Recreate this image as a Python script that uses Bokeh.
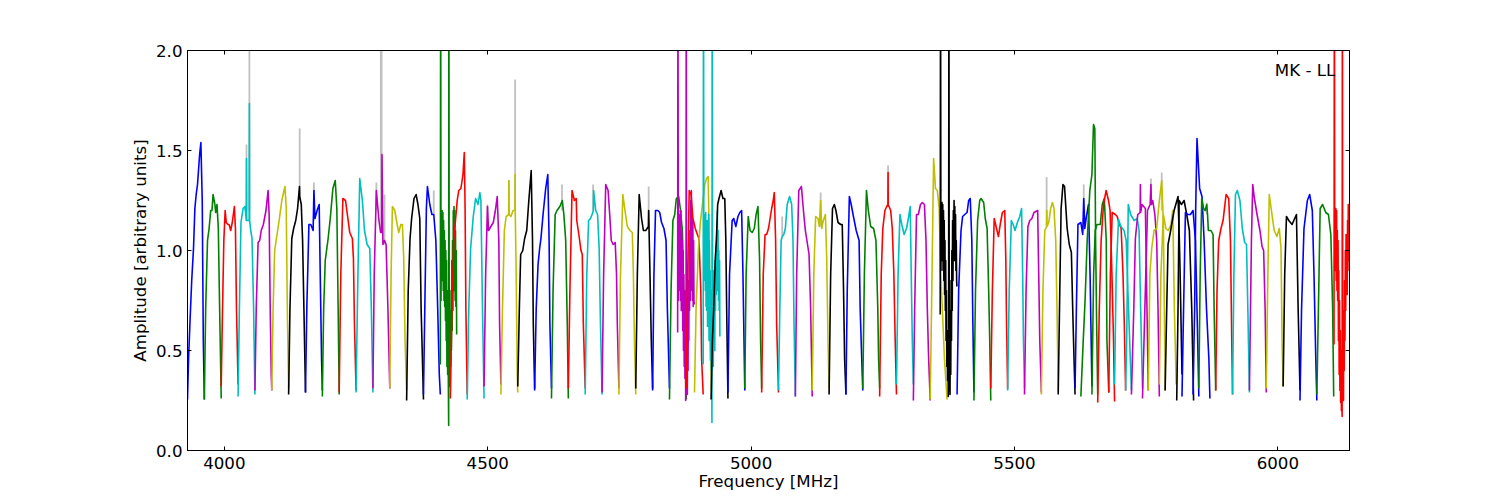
from bokeh.plotting import figure
from bokeh.models import LinearAxis, FixedTicker, Range1d
from bokeh.core.properties import value
from bokeh.embed import file_html
from bokeh.resources import INLINE

TITLE = "MK - LL"
X_LABEL = "Frequency [MHz]"
Y_LABEL = "Amplitude [arbitrary units]"
X_TICKS = [4000, 4500, 5000, 5500, 6000]
Y_TICKS = [0.0, 0.5, 1.0, 1.5, 2.0]
Y_TICK_LABELS = ["0.0", "0.5", "1.0", "1.5", "2.0"]

COLORS = {"b": "#0000ff", "g": "#008000", "r": "#ff0000", "c": "#00bfbf",
          "m": "#bf00bf", "y": "#bfbf00", "k": "#000000"}

BAND_START = [3930, 3962, 3994, 4026, 4058, 4090, 4122, 4154, 4186, 4218,
              4250, 4282, 4314, 4346, 4378, 4410, 4429, 4461, 4493, 4525,
              4557, 4589, 4621, 4653, 4685, 4717, 4749, 4781, 4813, 4845,
              4860.5, 4877, 4892.5, 4909, 4924, 4956, 4988, 5020, 5052, 5084,
              5116, 5148, 5180, 5212, 5244, 5276, 5308, 5340, 5359, 5391,
              5423, 5455, 5487, 5519, 5551, 5583, 5615, 5626, 5647, 5658,
              5679, 5690, 5711, 5722, 5743, 5754, 5775, 5786, 5808, 5818,
              5839, 5850, 5882, 5914, 5946, 5978, 6010, 6042, 6074, 6106]

BAND_COLOR = [
    "b", "g", "r", "c", "m", "y", "k", "b", "g", "r",
    "c", "m", "y", "k", "b", "g", "r", "c", "m", "y",
    "k", "b", "g", "r", "c", "m", "y", "k", "b", "g",
    "m", "r", "y", "c", "k", "b", "g", "r", "c", "m",
    "y", "k", "b", "g", "r", "c", "m", "y", "k", "b",
    "g", "r", "c", "m", "y", "k", "b", "g", "g", "r",
    "r", "c", "c", "m", "m", "y", "y", "k", "k", "b",
    "b", "g", "r", "c", "m", "y", "k", "b", "g", "r"]

BAND_OFFSET = [
    [0, 2, 5, 8, 11.4, 14, 16.5, 19, 23, 25.4, 28, 30, 32],
    [0, 2.5, 6, 9, 12, 14.5, 16.5, 20, 21.5, 24, 26.5, 29, 32],
    [0, 2.5, 5, 7.5, 9.5, 13, 15, 18, 21, 25, 27, 29, 32],
    [0, 2.5, 5.5, 9.5, 13, 15.6, 16, 16.4, 21, 21.5, 22, 24, 26.5, 29.5, 32],
    [0, 2.5, 6, 9, 12, 16, 21, 25, 27, 29, 31, 32],
    [0, 2.5, 5.5, 10, 14.5, 19, 25, 27.5, 29.5, 32],
    [0, 2.5, 6, 9.5, 13.5, 17, 20.6, 21, 24, 26.5, 29, 32],
    [0, 2.5, 6.5, 10, 14.5, 16, 18, 22, 26, 28, 30.5, 32],
    [0, 2.5, 5.5, 11, 15, 20, 24.5, 27.5, 30, 32],
    [0, 3, 7, 12, 17, 20, 25, 27, 29, 32],
    [0, 3, 7, 12, 16, 21, 26, 29, 32],
    [0, 2.5, 6.5, 11.5, 14.5, 16.8, 17.2, 19, 22, 25, 28.5, 32],
    [0, 2.5, 5, 9.5, 14, 17, 21, 24, 26.5, 29, 32],
    [0, 3, 6.5, 9.5, 14, 18, 21.5, 25, 27.5, 32],
    [0, 2.5, 5.5, 7.5, 12, 16, 19.5, 23.5, 27, 30, 32],
    [0, .6, 1.3, 2, 2.7, 3.4, 4.1, 4.8, 5.5, 6.2,
     6.9, 7.6, 8.3, 9, 9.7, 10.4, 11.1, 11.8, 12.5, 13.2,
     13.9, 14.6, 15.3, 15.8, 16.2, 16.9, 17.6, 18.3, 19, 19.7,
     20.4, 21.1, 21.8, 22.5, 23.2, 23.9, 24.6, 25.3, 26, 26.7,
     27.4, 28.1, 28.8, 29.5, 30.2, 31],
    [0, 3, 6.5, 13, 16, 20, 24, 26.5, 28, 29.5, 32],
    [0, 3, 6.5, 11.5, 16, 20.5, 24, 26, 29, 32],
    [0, 3, 6.5, 8.5, 13, 17.5, 21.5, 25, 28, 29.5, 32],
    [0, 3, 6.5, 10, 14.8, 15.2, 15.6, 19, 23, 26.6, 26.9, 27.2, 29, 31, 32],
    [0, 3, 5.5, 9.5, 13, 17, 21, 25.5, 28, 29.5, 32],
    [0, 3, 6.5, 9.5, 12, 16, 21, 25, 27.5, 29, 32],
    [0, 3, 7, 10.5, 16, 20.5, 23.5, 27, 30, 32],
    [0, 3, 7, 11.5, 15, 16, 20, 24, 26.5, 28.5, 32],
    [0, 3, 6.5, 10, 13, 15.5, 16, 20, 23.5, 26.5, 29, 32],
    [0, 3, 7, 11.5, 15, 17.5, 21, 25, 27.5, 29, 32],
    [0, 3, 7.5, 11.5, 16, 21, 25.5, 27.5, 29.5, 32],
    [0, 3, 6.5, 11, 14.5, 19, 24, 24.5, 27, 29.5, 32],
    [0, 2.5, 5.5, 10, 13.5, 17, 21.5, 25.5, 28, 32],
    [0, 3, 6.5, 10, 13, 17.5, 21, 24.5, 27.5, 32],
    [0, .6, 1.3, 2, 2.7, 3.4, 4.1, 4.8, 5.5, 6.2,
     6.9, 7.6, 8.3, 9, 9.7, 10.4, 11.1, 11.8, 12.5, 13.2,
     13.9, 14.6, 15.3, 15.9, 16.3, 17, 17.7, 18.4, 19.1, 19.8,
     20.5, 21.2, 21.9, 22.6, 23.3, 24, 24.7, 25.4, 26.1, 26.8,
     27.5, 28.2, 28.9, 29.6, 30.3, 31, 31.7],
    [0, 2.5, 5.5, 9, 12.5, 17, 21, 24, 27.5, 29, 32],
    [0, 3, 7.5, 11.5, 16, 19.5, 23, 26, 28, 30, 32],
    [0, .6, 1.3, 2, 2.7, 3.4, 4.1, 4.8, 5.5, 6.2,
     6.9, 7.6, 8.3, 9, 9.7, 10.4, 11.1, 11.8, 12.5, 13.2,
     13.9, 14.6, 15.3, 16, 16.6, 17.1, 17.8, 18.5, 19.2, 19.9,
     20.6, 21.3, 22, 22.7, 23.4, 24.1, 24.8, 25.5, 26.2, 26.9,
     27.6, 28.3, 29, 29.7, 30.4, 31.1, 31.7],
    [0, 2.5, 5, 8, 10, 12.5, 15, 19, 22.5, 26, 28, 30, 32],
    [0, 3, 8, 11, 15, 19, 22.5, 26, 28.5, 30.5, 32],
    [0, 2.5, 6.5, 10, 14, 18, 21.5, 25, 28, 30, 32],
    [0, 3, 6.5, 9.5, 13, 16, 19, 22, 24, 26.5, 28.5, 32],
    [0, 2.5, 5, 7, 10, 13, 16.5, 21, 25, 27.5, 29.5, 32],
    [0, 2.5, 6.5, 11.5, 16, 19, 26, 29, 32],
    [0, 3, 6.5, 11, 13.5, 16, 18, 21, 25, 27.5, 30, 32],
    [0, 3, 6.5, 10, 13, 17, 22, 25, 27.5, 29.5, 32],
    [0, 2.5, 6.5, 10, 15, 19.5, 25, 27, 30, 32],
    [0, 3, 7, 10.5, 15, 20.5, 25, 28.5, 30, 32],
    [0, 3, 6, 10, 13.5, 15.7, 16, 16.3, 21, 24, 27, 29.5, 32],
    [0, 3, 6.5, 10, 14.5, 19, 22.5, 26, 28, 30, 32],
    [0, 2.5, 6, 9.5, 13.5, 17, 21, 24, 26.5, 29, 32],
    [0, 3, 6.5, 10, 13.5, 17, 20, 23, 27, 32],
    [0, .6, 1.3, 2, 2.7, 3.4, 4.1, 4.8, 5.5, 6.2,
     6.9, 7.6, 8.3, 9, 9.7, 10.4, 11.1, 11.8, 12.5, 13.2,
     13.9, 14.6, 15.3, 15.9, 16.5, 17.2, 17.9, 18.6, 19.3, 20,
     20.7, 21.4, 22.1, 22.8, 23.5, 24.2, 24.9, 25.6, 26.3, 27,
     27.7, 28.4, 29.1, 29.8, 30.5, 31.2, 31.7],
    [0, 3, 7.5, 10.5, 14.5, 19, 22, 25, 28, 30, 32],
    [0, 3, 7, 11, 13.5, 18.5, 21.5, 25, 28, 30, 32],
    [0, 3, 6.5, 10, 14.5, 18.5, 22, 26.5, 28.5, 30, 32],
    [0, 3, 7, 10.5, 14, 18.5, 23, 26.5, 28.5, 30, 32],
    [0, 3, 6.5, 10, 14, 18, 25, 27, 29, 32],
    [0, 3, 6.5, 10, 10.4, 10.8, 14, 17.7, 21, 24, 27.3, 29.7, 32],
    [0, 3, 5.5, 9, 12, 17, 21, 25, 27.5, 30, 32],
    [0, 2.5, 5.5, 11, 14.5, 16.5, 18.5, 21, 25.5, 28.5, 32],
    [0, 4.5, 8, 12, 17, 21, 24, 26.5, 28, 30, 32],
    [0, 3.2, 6.3, 9.5, 15.8, 19.6, 23.5, 27.2, 28.5, 32],
    [0, 3, 6.5, 11, 16, 20.5, 23.5, 27, 30, 32],
    [0, 3, 6.5, 12.5, 16, 19, 23.5, 27, 29.5, 32],
    [0, 3, 7.5, 12, 18, 22, 26.5, 32],
    [0, 2, 5, 9.5, 16, 22, 25.5, 28.5, 32],
    [0, 4.5, 7.5, 12, 16.5, 17, 17.5, 20, 26.5, 29.5, 32],
    [0, 4.5, 9.5, 14.5, 16, 17, 19.5, 23.5, 27, 29.5, 32],
    [0, 3, 6.5, 11, 16, 21, 25.5, 28.5, 30.5, 32],
    [0, 3, 7.5, 12.5, 17, 22, 25.5, 28.5, 32],
    [0, 3, 5.5, 10.5, 17, 24.5, 27, 28.5, 32],
    [0, 2.5, 4.5, 9, 14, 19, 24, 28.5, 32],
    [0, 3, 6.5, 11, 16, 21, 25.5, 28.5, 32],
    [0, 3, 5, 7.5, 12.5, 17, 21, 25.5, 30, 32],
    [0, 2.5, 5.5, 9, 12, 15, 16.5, 18, 23, 27, 29, 32],
    [0, 2.5, 5.7, 10, 14, 19.7, 24.7, 28, 30.5, 32],
    [0, 2.5, 5.5, 9, 14, 18.5, 23, 26.5, 29, 32],
    [0, 3.8, 6.3, 9.5, 14.5, 20, 24, 27, 29.8, 32],
    [0, 3, 5.7, 10.8, 15, 20.3, 24.7, 28, 30, 32],
    [0, 3, 6.3, 10.8, 17, 20.3, 25.3, 28.5, 32],
    [0, 3, 7.6, 14, 18.4, 23.4, 26.6, 30, 32],
    [0, 3, 6.3, 10.8, 17, 22, 26.6, 30, 32],
    [.6, 1.3, 2, 2.7, 3.4, 4.1, 4.8, 5.5, 6.2, 6.9,
     7.6, 8.3, 9, 9.7, 10.4, 11.1, 11.8, 12.5, 13.2, 13.9,
     14.6, 15.3, 16, 16.5, 17.2, 17.9, 18.6, 19.3, 20, 20.7,
     21.4, 22.1, 22.8, 23.5, 24.2, 24.9, 25.6, 26.3, 27, 27.7,
     28.4, 29.1, 29.8, 30.5, 31.2, 31.7],
]

BAND_AMP = [
    [.255, .46, .66, .85, 1.01, 1.21, 1.28, 1.33, 1.48, 1.54, 1.25, .55, .255],
    [.255, .71, 1.05, 1.11, 1.2, 1.2, 1.28, 1.23, 1.19, 1.23, 1.11, .71, .26],
    [.32, .71, 1.05, 1.2, 1.14, 1.13, 1.13, 1.1, 1.14, 1.22, 1.11, .71, .33],
    [.27, .71, 1.14, 1.21, 1.22, 1.15, 1.46, 1.15, 1.15, 1.735, 1.15, 1.1, 1.06, .71, .28],
    [.3, .71, 1.04, 1.05, 1.1, 1.13, 1.2, 1.3, 1.18, .71, .38, .3],
    [.3, .71, 1.0, 1.08, 1.16, 1.25, 1.32, 1.21, .71, .31],
    [.28, .71, 1.06, 1.11, 1.15, 1.21, 1.32, 1.27, 1.23, 1.05, .71, .29],
    [.29, .71, 1.13, 1.13, 1.1, 1.3, 1.16, 1.2, 1.23, .88, .46, .3],
    [.27, .71, .95, 1.06, 1.16, 1.31, 1.35, 1.21, .71, .28],
    [.29, .88, 1.26, 1.25, 1.15, 1.09, 1.06, .96, .63, .3],
    [.29, .8, 1.36, 1.25, 1.1, 1.03, 1.01, .71, .29],
    [.31, .88, 1.3, 1.15, 1.09, 1.09, 1.48, 1.03, 1.05, 1.03, .71, .31],
    [.31, .88, 1.22, 1.2, 1.13, 1.09, 1.13, 1.13, .96, .55, .3],
    [.25, .8, 1.06, 1.16, 1.26, 1.28, 1.23, 1.16, .71, .255],
    [.28, .71, 1.21, 1.32, 1.23, 1.18, 1.18, 1.05, .71, .38, .28],
    [.43, 2.6, .75, 1.2, .95, 1.2, .85, 1.19, .8, 1.15,
     .75, 1.1, .72, 1.05, .65, 1.0, .55, .95, .42, .8,
     .38, .7, .3, .125, 2.6, .45, .65, .32, .7, .42,
     .8, .5, .95, .6, 1.05, .7, 1.2, .85, 1.22, .8,
     1.2, .75, 1.1, .72, 1.0, .58],
    [.26, .71, 1.05, 1.25, 1.3, 1.31, 1.38, 1.49, 1.21, .71, .28],
    [.255, .71, 1.01, 1.17, 1.26, 1.23, 1.29, 1.25, .71, .26],
    [.32, .88, 1.22, 1.1, 1.12, 1.14, 1.2, 1.27, 1.05, .63, .33],
    [.28, .71, 1.1, 1.17, 1.18, 1.35, 1.18, 1.17, 1.2, 1.2, 1.38, 1.2, .88, .38, .29],
    [.32, .71, .98, 1.0, 1.06, 1.1, 1.25, 1.4, 1.05, .63, .31],
    [.3, .71, .93, 1.01, 1.06, 1.18, 1.31, 1.38, 1.05, .63, .31],
    [.26, .8, 1.18, 1.2, 1.22, 1.25, 1.18, 1.05, .63, .26],
    [.31, .8, 1.3, 1.25, 1.26, 1.15, 1.08, 1.0, .98, .63, .31],
    [.28, .88, 1.15, 1.16, 1.18, 1.2, 1.3, 1.2, 1.18, 1.01, .63, .28],
    [.29, .88, 1.33, 1.3, 1.16, 1.05, 1.03, 1.04, .88, .63, .31],
    [.28, .88, 1.28, 1.2, 1.12, 1.1, 1.09, .88, .55, .28],
    [.31, .88, 1.28, 1.16, 1.1, 1.1, 1.12, 1.2, .88, .55, .31],
    [.3, .88, 1.2, 1.2, 1.19, 1.14, 1.11, 1.05, .71, .31],
    [.255, .8, 1.15, 1.18, 1.26, 1.27, 1.2, 1.1, .71, .255],
    [.59, 2.6, .75, 1.2, .85, 1.18, .8, 1.15, .75, 1.2,
     .7, 1.1, .72, 1.05, .6, 1.0, .5, .88, .42, .8,
     .36, .7, .25, .4, 2.6, .3, .65, .28, .8, .4,
     .85, .55, 1.0, .7, 1.1, .75, 1.25, .85, 1.3, .8,
     1.2, .75, 1.15, .72, 1.05, .75, .73],
    [.31, .88, 1.3, 1.28, 1.16, 1.11, 1.08, 1.06, .8, .46, .28],
    [.29, .71, 1.01, 1.15, 1.25, 1.33, 1.36, 1.37, 1.05, .55, .3],
    [.43, 2.6, .85, 1.1, .88, 1.18, .8, 1.19, .72, 1.1,
     .7, 1.15, .62, 1.0, .75, 1.18, .55, 1.05, .6, .9,
     .45, .8, .4, .7, .14, 2.6, .45, .8, .42, .9,
     .55, .9, .5, .95, .7, 1.0, .78, 1.05, .8, 1.2,
     .81, 1.1, .75, 1.0, .7, .95, .57],
    [.255, .55, .71, .96, 1.05, 1.23, 1.26, 1.3, 1.26, 1.26, 1.05, .63, .26],
    [.29, .88, 1.15, 1.16, 1.12, 1.17, 1.19, 1.2, .88, .55, .3],
    [.31, .88, 1.17, 1.1, 1.09, 1.11, 1.18, 1.22, .96, .55, .31],
    [.29, .88, 1.08, 1.08, 1.11, 1.16, 1.21, 1.25, 1.29, 1.05, .63, .29],
    [.3, .71, 1.05, 1.07, 1.08, 1.11, 1.23, 1.27, 1.23, 1.05, .63, .27],
    [.27, .88, 1.3, 1.32, 1.18, 1.1, .98, .71, .27],
    [.3, .88, 1.17, 1.16, 1.12, 1.25, 1.11, 1.15, 1.18, .96, .55, .31],
    [.28, .88, 1.21, 1.23, 1.2, 1.14, 1.13, 1.13, .8, .46, .28],
    [.28, .8, 1.27, 1.23, 1.16, 1.1, 1.05, .71, .46, .3],
    [.31, .88, 1.3, 1.2, 1.12, 1.11, 1.05, .71, .46, .31],
    [.27, .88, 1.11, 1.2, 1.22, 1.23, 1.39, 1.23, 1.2, 1.11, .88, .55, .28],
    [.33, .88, 1.18, 1.13, 1.08, 1.11, 1.16, 1.22, .88, .55, .33],
    [.25, .71, 1.18, 1.18, 1.23, 1.24, 1.23, 1.05, .71, .46, .25],
    [.255, .8, 1.46, 1.31, 1.3, 1.21, .88, .71, .46, .255],
    [.68, 2.6, .9, 1.16, .95, 1.24, .95, 1.23, .9, 1.2,
     .85, 1.15, .78, 1.05, .7, .95, .55, .8, .42, .6,
     .35, .5, .27, .4, 2.6, .3, .55, .28, .7, .38,
     .85, .55, 1.0, .7, 1.15, .85, 1.2, .95, 1.25, .95,
     1.22, .95, 1.18, .9, 1.05, .85, .82],
    [.28, .8, 1.1, 1.17, 1.18, 1.19, 1.25, 1.26, 1.05, .63, .29],
    [.25, .8, 1.15, 1.25, 1.26, 1.24, 1.16, 1.11, .8, .55, .25],
    [.31, .8, 1.16, 1.12, 1.07, 1.14, 1.19, 1.2, .96, .63, .31],
    [.3, .8, 1.15, 1.13, 1.1, 1.14, 1.17, 1.21, .88, .55, .31],
    [.28, .8, 1.12, 1.15, 1.16, 1.19, 1.2, .88, .55, .29],
    [.28, .8, 1.1, 1.12, 1.2, 1.12, 1.14, 1.21, 1.24, 1.21, 1.05, .71, .3],
    [.28, .8, 1.21, 1.33, 1.32, 1.11, 1.03, .99, .71, .46, .28],
    [.31, .71, 1.13, 1.14, 1.08, 1.26, 1.11, 1.16, 1.23, .88, .32],
    [.27, .55, .75, 1.05, 1.3, 1.38, 1.63, 1.61, 1.05, .63, .28],
    [.28, .88, 1.1, 1.13, 1.13, 1.23, 1.26, 1.05, .55, .29],
    [.24, .71, 1.05, 1.23, 1.3, 1.25, 1.2, .88, .55, .245],
    [.29, .88, 1.19, 1.18, 1.17, 1.14, 1.11, .88, .63, .3],
    [.33, .88, 1.155, 1.12, 1.1, 1.05, .71, .3],
    [.3, .55, 1.23, 1.18, 1.15, 1.16, 1.1, .71, .31],
    [.28, .71, 1.06, 1.18, 1.19, 1.33, 1.19, 1.23, 1.21, .71, .3],
    [.26, .71, 1.2, 1.23, 1.33, 1.23, 1.25, 1.18, 1.05, .71, .27],
    [.3, .88, 1.01, 1.1, 1.11, 1.25, 1.35, 1.15, .71, .3],
    [.33, .88, 1.18, 1.11, 1.1, 1.13, 1.2, .71, .33],
    [.3, .71, 1.03, 1.1, 1.2, 1.27, 1.05, .88, .38],
    [.25, .71, 1.25, 1.23, 1.25, 1.18, 1.1, .71, .25],
    [.27, .71, 1.19, 1.18, 1.18, 1.2, 1.05, .71, .27],
    [.28, .71, 1.21, 1.56, 1.31, 1.27, 1.05, .71, .46, .26],
    [.31, .88, 1.26, 1.21, 1.2, 1.23, 1.18, 1.1, 1.1, 1.08, .71, .3],
    [.3, .8, 1.05, 1.11, 1.15, 1.28, 1.26, 1.05, .55, .28],
    [.28, .88, 1.28, 1.3, 1.25, 1.11, 1.04, 1.03, .71, .29],
    [.3, 1.05, 1.33, 1.26, 1.18, 1.1, 1.02, 1.0, .71, .29],
    [.31, .88, 1.28, 1.18, 1.1, 1.07, 1.11, 1.01, .55, .32],
    [.32, .88, 1.17, 1.15, 1.13, 1.15, 1.18, .71, .3],
    [.25, .71, 1.11, 1.25, 1.28, 1.2, .88, .46, .25],
    [.28, .71, 1.21, 1.23, 1.19, 1.18, 1.08, .71, .27],
    [.53, 2.6, .95, 1.2, .9, 1.21, .85, 1.2, .8, 1.1,
     .75, 1.05, .55, .9, .38, .75, .3, .6, .24, .5,
     .2, .4, .17, 2.6, .3, .55, .25, .7, .4, .85,
     .55, 1.0, .7, 1.08, .81, 1.05, .78, 1.15, .9, 1.23,
     .95, 1.23, .98, 1.2, .85, .8],
]

# Faint spikes in the unflagged spectrum that show behind the coloured bands.
RAW_FREQ = [4042, 4047.5, 4143, 4170, 4288.5, 4297, 4298.5, 4304, 4397.5, 4499.5,
            4540, 4552, 4641, 4700, 4805.5, 5059, 5132, 5260, 5561, 5631.5,
            5759, 5779.5, 5865]
RAW_TOP = [1.53, 2.6, 1.61, 1.34, 1.34, 2.6, 2.6, 1.28, 1.3, 1.23,
           1.35, 1.855, 1.33, 1.33, 1.32, 1.17, 1.29, 1.425, 1.367, 1.33,
           1.36, 1.39, 1.24]
RAW_BASE = [1.2, 1.2, 1.25, 1.15, 1.2, 1.1, 1.1, 1.03, 1.18, 1.1,
            1.18, 1.2, 1.2, 1.2, 1.12, 1.07, 1.12, 1.22, 1.12, 1.1,
            1.23, 1.2, 1.18]

X_MIN, X_MAX = 3930, 6136
Y_MIN, Y_MAX = 0.0, 2.0

assert len(BAND_START) == len(BAND_COLOR) == len(BAND_OFFSET) == len(BAND_AMP)
for i, (o, a) in enumerate(zip(BAND_OFFSET, BAND_AMP)):
    assert len(o) == len(a), (i, len(o), len(a))

FONT = "DejaVu Sans"
SIZE = "16.67px"

p = figure(width=1492, height=494, output_backend="svg", toolbar_location=None,
           x_range=Range1d(X_MIN, X_MAX), y_range=Range1d(Y_MIN, Y_MAX),
           min_border_left=187, min_border_right=143, min_border_top=50, min_border_bottom=44,
           background_fill_color="white", border_fill_color="white")
p.grid.visible = False
p.outline_line_color = "black"
p.outline_line_width = 1

p.segment(RAW_FREQ, RAW_BASE, RAW_FREQ, RAW_TOP, line_color="#c0c0c0", line_width=1.8)

for start, col, off, amp in zip(BAND_START, BAND_COLOR, BAND_OFFSET, BAND_AMP):
    p.line([start + o for o in off], amp, line_color=COLORS[col], line_width=1.6, line_join="round")

p.text([6109], [1.9], text=[TITLE], text_font=value(FONT), text_font_size=SIZE,
       text_align="right", text_baseline="alphabetic", text_color="black")

for ax, ticks in ((p.xaxis[0], X_TICKS), (p.yaxis[0], Y_TICKS)):
    ax.ticker = FixedTicker(ticks=ticks)
    ax.major_tick_in = 4
    ax.major_tick_out = 0
    ax.minor_tick_line_color = None
    ax.axis_line_color = "black"
    ax.major_label_text_font = FONT
    ax.major_label_text_font_size = SIZE
    ax.major_label_text_color = "black"
    ax.axis_label_text_font = FONT
    ax.axis_label_text_font_size = SIZE
    ax.axis_label_text_font_style = "normal"
    ax.axis_label_text_color = "black"

p.xaxis[0].axis_label = X_LABEL
p.yaxis[0].axis_label = Y_LABEL
p.xaxis[0].major_label_standoff = 6
p.xaxis[0].axis_label_standoff = 0
p.yaxis[0].major_label_standoff = 5
p.yaxis[0].axis_label_standoff = 3
p.yaxis[0].major_label_overrides = {t: s for t, s in zip(Y_TICKS, Y_TICK_LABELS)}
p.yaxis[0].major_label_orientation = "horizontal"

top = LinearAxis(ticker=FixedTicker(ticks=X_TICKS), major_tick_in=4, major_tick_out=0,
                 minor_tick_line_color=None, major_label_text_font_size="0px",
                 major_label_standoff=0, major_label_text_color=None)
right = LinearAxis(ticker=FixedTicker(ticks=Y_TICKS), major_tick_in=4, major_tick_out=0,
                   minor_tick_line_color=None, major_label_text_font_size="0px",
                   major_label_standoff=0, major_label_text_color=None)
p.add_layout(top, "above")
p.add_layout(right, "right")

open("out.html", "w").write(file_html(p, INLINE))
